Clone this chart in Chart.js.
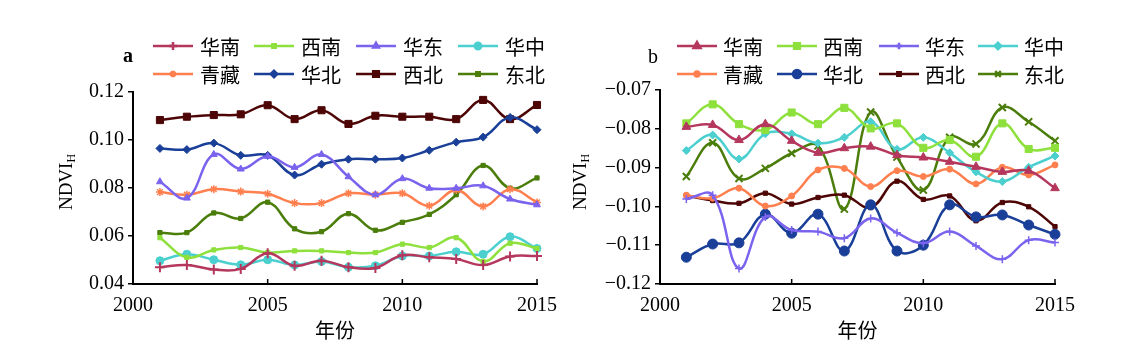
<!DOCTYPE html>
<html>
<head>
<meta charset="utf-8">
<script src="https://cdn.jsdelivr.net/npm/chart.js@4.4.0/dist/chart.umd.min.js"></script>
<style>
  html, body { margin: 0; padding: 0; background: #fff; }
  #wrap { position: relative; width: 1134px; height: 357px; }
  canvas { position: absolute; top: 0; }
</style>
</head>
<body>
<div id="wrap">
  <canvas id="ca" width="567" height="357" style="left:0"></canvas>
  <canvas id="cb" width="567" height="357" style="left:567px"></canvas>
</div>
<script>
// ---------- data ----------
const years = [2001,2002,2003,2004,2005,2006,2007,2008,2009,2010,2011,2012,2013,2014,2015];
const regions = ['华南','西南','华东','华中','青藏','华北','西北','东北'];
const xTicks = [2000, 2005, 2010, 2015];
const yTicksA = [0.04, 0.06, 0.08, 0.10, 0.12];
const yTicksB = [-0.12, -0.11, -0.10, -0.09, -0.08, -0.07];

// panel a
const aHuaNan  = [0.0470,0.0479,0.0460,0.0463,0.0528,0.0476,0.0497,0.0470,0.0467,0.0520,0.0511,0.0504,0.0479,0.0515,0.0517];
const aXiNan   = [0.0593,0.0511,0.0542,0.0552,0.0531,0.0538,0.0538,0.0531,0.0531,0.0566,0.0552,0.0593,0.0494,0.0570,0.0548];
const aHuaDong = [0.0826,0.0758,0.0940,0.0879,0.0932,0.0886,0.0940,0.0847,0.0772,0.0839,0.0799,0.0799,0.0809,0.0754,0.0730];
const aHuaZhong= [0.0497,0.0524,0.0501,0.0480,0.0501,0.0479,0.0494,0.0470,0.0476,0.0517,0.0517,0.0534,0.0524,0.0597,0.0548];
const aQingZang= [0.0783,0.0772,0.0795,0.0785,0.0776,0.0737,0.0737,0.0778,0.0772,0.0778,0.0726,0.0792,0.0723,0.0795,0.0740];
const aHuaBei  = [0.0965,0.0960,0.0987,0.0936,0.0936,0.0854,0.0899,0.0920,0.0920,0.0925,0.0957,0.0991,0.1012,0.1094,0.1043];
const aXiBei   = [0.1083,0.1097,0.1104,0.1107,0.1145,0.1087,0.1124,0.1067,0.1101,0.1097,0.1097,0.1087,0.1167,0.1087,0.1146];
const aDongBei = [0.0614,0.0614,0.0696,0.0673,0.0741,0.0630,0.0618,0.0693,0.0624,0.0657,0.0690,0.0772,0.0894,0.0799,0.0842];

// panel b
const bHuaNan  = [-0.0795,-0.0790,-0.0829,-0.0788,-0.0831,-0.0862,-0.0850,-0.0846,-0.0868,-0.0874,-0.0885,-0.0898,-0.0911,-0.0908,-0.0953];
const bXiNan   = [-0.0786,-0.0737,-0.0788,-0.0803,-0.0758,-0.0788,-0.0746,-0.0799,-0.0786,-0.0849,-0.0829,-0.0872,-0.0786,-0.0852,-0.0849];
const bHuaDong = [-0.0981,-0.0971,-0.1160,-0.1027,-0.1061,-0.1065,-0.1082,-0.1031,-0.1068,-0.1095,-0.1065,-0.1102,-0.1136,-0.1087,-0.1093];
const bHuaZhong= [-0.0856,-0.0816,-0.0878,-0.0813,-0.0813,-0.0837,-0.0822,-0.0782,-0.0853,-0.0822,-0.0862,-0.0911,-0.0936,-0.0899,-0.0870];
const bQingZang= [-0.0971,-0.0979,-0.0953,-0.0999,-0.0973,-0.0906,-0.0902,-0.0949,-0.0908,-0.0923,-0.0904,-0.0942,-0.0899,-0.0919,-0.0893];
const bHuaBei  = [-0.1131,-0.1097,-0.1094,-0.1020,-0.1069,-0.1020,-0.1115,-0.0996,-0.1115,-0.1100,-0.0996,-0.1027,-0.1022,-0.1048,-0.1072];
const bXiBei   = [-0.0972,-0.0985,-0.0992,-0.0966,-0.0994,-0.0977,-0.0971,-0.1003,-0.0935,-0.0982,-0.0973,-0.1037,-0.0990,-0.1001,-0.1052];
const bDongBei = [-0.0923,-0.0836,-0.0928,-0.0902,-0.0863,-0.0844,-0.1007,-0.0757,-0.0873,-0.0958,-0.0822,-0.0839,-0.0745,-0.0782,-0.0831];

// ---------- styles ----------
const colors = ['#b5375d','#8ee03c','#7b63ee','#4ccfcf','#ff7f4f','#1a3f99','#4d0505','#4a7d0a'];
const stylesA = [
  {ps:'cross', r:5, bw:2}, {ps:'rect', r:3, bw:1}, {ps:'triangle', r:4, bw:1}, {ps:'circle', r:4, bw:1},
  {ps:'star', r:4, bw:1.5}, {ps:'rectRot', r:4, bw:1}, {ps:'rect', r:5, bw:1}, {ps:'rect', r:3, bw:1}
];
const stylesB = [
  {ps:'triangle', r:5, bw:1}, {ps:'rect', r:5, bw:1}, {ps:'cross', r:4, bw:1.5}, {ps:'rectRot', r:4, bw:1},
  {ps:'circle', r:3, bw:1}, {ps:'circle', r:5, bw:1}, {ps:'rect', r:3, bw:1}, {ps:'crossRot', r:5, bw:2}
];
const SERIF = '"Liberation Serif", "Times New Roman", serif';
const CJK = '"Noto Sans CJK SC", sans-serif';

function makeDatasets(series, styles) {
  return series.map((vals, i) => ({
    label: regions[i],
    data: years.map((y, k) => ({x: y, y: vals[k]})),
    borderColor: colors[i],
    backgroundColor: colors[i],
    borderWidth: 2.5,
    tension: 0.4,
    pointStyle: styles[i].ps,
    pointRadius: styles[i].r,
    pointBorderWidth: styles[i].bw,
    pointBackgroundColor: colors[i],
    pointBorderColor: colors[i],
    clip: false
  }));
}

function decorPlugin(cfg) {
  return {
    id: 'decor',
    afterDraw(chart) {
      const ctx = chart.ctx;
      const area = chart.chartArea;
      const xs = chart.scales.x;
      ctx.save();
      // inward x ticks
      ctx.strokeStyle = '#000';
      ctx.lineWidth = 1.5;
      xTicks.forEach(t => {
        const px = xs.getPixelForValue(t);
        ctx.beginPath(); ctx.moveTo(px, area.bottom); ctx.lineTo(px, area.bottom - 5); ctx.stroke();
      });
      // legend
      chart.data.datasets.forEach((ds, i) => {
        const row = Math.floor(i / 4), col = i % 4;
        const x0 = cfg.legX[col];
        const y0 = cfg.legY[row];
        ctx.strokeStyle = ds.borderColor;
        ctx.lineWidth = 2.5;
        ctx.beginPath(); ctx.moveTo(x0, y0); ctx.lineTo(x0 + 40, y0); ctx.stroke();
        ctx.fillStyle = ds.borderColor;
        Chart.helpers.drawPoint(ctx, {pointStyle: ds.pointStyle, radius: ds.pointRadius * 0.8, borderWidth: ds.pointBorderWidth}, x0 + 20, y0);
        ctx.fillStyle = '#000';
        ctx.font = '20px ' + CJK;
        ctx.textBaseline = 'middle';
        ctx.textAlign = 'left';
        ctx.fillText(ds.label, x0 + cfg.legText, y0 + 1);
      });
      // panel letter
      ctx.fillStyle = '#000';
      ctx.font = cfg.letterFont;
      ctx.textAlign = 'center';
      ctx.textBaseline = 'middle';
      ctx.fillText(cfg.letter, cfg.letterX, cfg.letterY);
      // y title NDVI_H
      ctx.translate(cfg.titleX, cfg.titleY);
      ctx.rotate(-Math.PI / 2);
      ctx.font = '19px ' + SERIF;
      const w1 = ctx.measureText('NDVI').width;
      ctx.font = '12px ' + SERIF;
      const w2 = ctx.measureText('H').width;
      const start = -(w1 + w2) / 2;
      ctx.textAlign = 'left';
      ctx.textBaseline = 'alphabetic';
      ctx.font = '19px ' + SERIF;
      ctx.fillText('NDVI', start, 0);
      ctx.font = '12px ' + SERIF;
      ctx.fillText('H', start + w1, 3);
      ctx.restore();
    }
  };
}

function makeChart(id, series, styles, opts) {
  return new Chart(document.getElementById(id), {
    type: 'line',
    data: { datasets: makeDatasets(series, styles) },
    options: {
      responsive: false,
      devicePixelRatio: 1,
      animation: false,
      layout: { padding: { left: 0, top: opts.top, right: opts.right, bottom: 0 } },
      plugins: { legend: { display: false }, tooltip: { enabled: false } },
      scales: {
        x: {
          type: 'linear', min: 2000, max: 2015,
          afterBuildTicks(s) { s.ticks = xTicks.map(v => ({value: v})); },
          afterFit(s) { s.height = 73; },
          grid: { display: true, drawOnChartArea: false, drawTicks: false },
          border: { display: true, color: '#000', width: 2 },
          ticks: { padding: 10, color: '#000', font: { family: SERIF, size: 20 }, callback: v => String(v) },
          title: { display: true, text: '年份', color: '#000', font: { family: CJK, size: 20 }, padding: { top: 0, bottom: 15 } }
        },
        y: {
          min: opts.yMin, max: opts.yMax,
          afterBuildTicks(s) { s.ticks = opts.yTicks.map(v => ({value: v})); },
          afterFit(s) { s.width = opts.axisX; },
          grid: { display: true, drawOnChartArea: false, drawTicks: true, tickLength: 5, color: '#000', lineWidth: 1.5 },
          border: { display: true, color: '#000', width: 2 },
          ticks: { padding: 4, color: '#000', font: { family: SERIF, size: 20 }, callback: opts.fmt }
        }
      }
    },
    plugins: [decorPlugin(opts.decor)]
  });
}

makeChart('ca',
  [aHuaNan, aXiNan, aHuaDong, aHuaZhong, aQingZang, aHuaBei, aXiBei, aDongBei], stylesA,
  { top: 92, right: 22, axisX: 133, yMin: 0.04, yMax: 0.12, yTicks: yTicksA,
    fmt: v => v.toFixed(2),
    decor: { legX: [153, 254, 356, 458], legY: [46, 74], legText: 47,
             letter: 'a', letterX: 128, letterY: 57, letterFont: 'bold 20px ' + SERIF,
             titleX: 72, titleY: 182 } });

makeChart('cb',
  [bHuaNan, bXiNan, bHuaDong, bHuaZhong, bQingZang, bHuaBei, bXiBei, bDongBei], stylesB,
  { top: 90, right: 79, axisX: 93, yMin: -0.12, yMax: -0.07, yTicks: yTicksB,
    fmt: v => '\u2212' + Math.abs(v).toFixed(2),
    decor: { legX: [110, 210, 312, 411], legY: [46, 74], legText: 46,
             letter: 'b', letterX: 86, letterY: 58, letterFont: '20px ' + SERIF,
             titleX: 19, titleY: 182 } });
</script>
</body>
</html>
